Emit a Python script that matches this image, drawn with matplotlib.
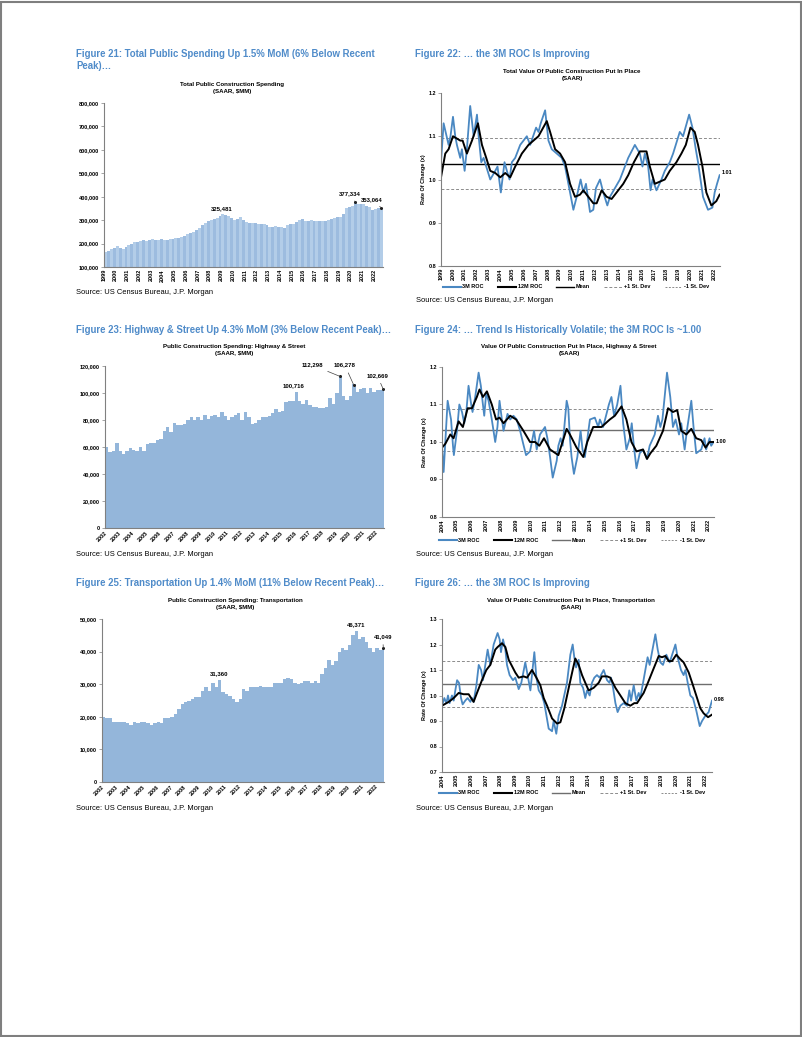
import matplotlib
matplotlib.use('Agg')
import matplotlib.pyplot as plt
from matplotlib import font_manager
from matplotlib.lines import Line2D
from matplotlib.patches import Rectangle
import numpy as np

W, H = 802, 1037
_names = {f.name for f in font_manager.fontManager.ttflist}
NARROW = 'Liberation Sans Narrow' if 'Liberation Sans Narrow' in _names else 'Liberation Sans'
plt.rcParams['font.family'] = ['Liberation Sans', 'DejaVu Sans']

# ---------------- DATA ----------------
FIG_TITLES = {
    21: "Figure 21: Total Public Spending Up 1.5% MoM (6% Below Recent\nPeak)…",
    22: "Figure 22: … the 3M ROC Is Improving",
    23: "Figure 23: Highway & Street Up 4.3% MoM (3% Below Recent Peak)…",
    24: "Figure 24: … Trend Is Historically Volatile; the 3M ROC Is ~1.00",
    25: "Figure 25: Transportation Up 1.4% MoM (11% Below Recent Peak)…",
    26: "Figure 26: … the 3M ROC Is Improving",
}
CHART_TITLES = {
    21: "Total Public Construction Spending\n(SAAR, $MM)",
    22: "Total Value Of Public Construction Put In Place\n(SAAR)",
    23: "Public Construction Spending: Highway & Street\n(SAAR, $MM)",
    24: "Value Of Public Construction Put In Place, Highway & Street\n(SAAR)",
    25: "Public Construction Spending: Transportation\n(SAAR, $MM)",
    26: "Value Of Public Construction Put In Place, Transportation\n(SAAR)",
}
SOURCE = "Source: US Census Bureau, J.P. Morgan"
LEGEND_LABELS = ["3M ROC", "12M ROC", "Mean", "+1 St. Dev", "-1 St. Dev"]
Y_LABEL = "Rate Of Change (x)"

# quarterly values, $000 MM
TOTAL_START = 1999.0
TOTAL_K = [165, 170, 175, 180, 188, 182, 178, 185, 192, 200, 205, 205,
           212, 215, 213, 215, 218, 216, 215, 218, 215, 217, 220, 220,
           222, 224, 228, 232, 240, 244, 250, 258, 265, 278, 288, 295,
           300, 305, 310, 318, 325, 322, 318, 310, 300, 305, 312, 300,
           290, 288, 287, 286, 285, 284, 283, 278, 272, 272, 273, 272,
           272, 268, 280, 282, 285, 290, 300, 305, 296, 298, 300, 298,
           297, 297, 298, 298, 300, 304, 308, 312, 315, 325, 350, 355,
           360, 377.3, 370, 368, 370, 360, 355, 345, 348, 350, 353.1]
TOTAL_YEARS = list(range(1999, 2023))

HWY_START = 2002.0
HWY_K = [60, 56, 57, 63, 57, 55, 57, 59, 58, 57, 60, 57,
         62, 63, 63, 65, 66, 72, 75, 71, 78, 76, 76, 77,
         80, 82, 80, 82, 80, 84, 81, 83, 84, 82, 86, 83,
         80, 82, 84, 85, 80, 86, 82, 77, 78, 80, 82, 82,
         83, 85, 88, 86, 87, 93, 94, 94, 100.7, 94, 92, 95,
         91, 90, 90, 89, 89, 90, 96, 92, 100, 112.3, 98, 95,
         98, 106.3, 101, 103, 104, 100, 104, 101, 102, 102, 102.7]
HWY_YEARS = list(range(2002, 2023))

TRN_START = 2002.0
TRN_K = [20, 19.5, 19.5, 18.5, 18.5, 18.5, 18.5, 18, 17.5, 18.5, 18, 18.5,
         18.5, 18, 17.5, 18, 18.5, 18, 19.5, 19.5, 20, 21, 22.5, 24,
         24.5, 25, 25.5, 26, 26, 28, 29, 28, 30.5, 29, 31.4, 27.5,
         27, 26.5, 25.5, 24.5, 25.5, 28.5, 28, 29, 29, 29, 29.5, 29,
         29, 29, 30.5, 30.5, 30.5, 31.5, 32, 31.5, 30.5, 30, 30.5, 31,
         31, 30.5, 31, 30.5, 33, 35, 37.5, 36, 37, 40, 41, 40.5,
         42, 45, 46.4, 44, 44.5, 43, 41, 40, 41, 40.5, 41.05]
TRN_YEARS = list(range(2002, 2023))

# (date, value) pairs for rate-of-change series
TOT_3M = [(1999.00, 1.04), (1999.22, 1.13), (1999.64, 1.08), (1999.80, 1.10), (2000.01, 1.145),
          (2000.20, 1.10), (2000.34, 1.08), (2000.62, 1.05), (2000.76, 1.07), (2000.99, 1.02),
          (2001.18, 1.07), (2001.46, 1.17), (2001.75, 1.10), (2002.03, 1.15), (2002.17, 1.10),
          (2002.39, 1.04), (2002.59, 1.05), (2002.81, 1.03), (2003.15, 1.00), (2003.57, 1.02),
          (2003.76, 1.03), (2004.04, 0.97), (2004.35, 1.04), (2004.55, 1.02), (2004.77, 1.00),
          (2004.97, 1.04), (2005.25, 1.05), (2005.67, 1.08), (2006.23, 1.10), (2006.51, 1.08),
          (2007.01, 1.12), (2007.21, 1.11), (2007.40, 1.13), (2007.77, 1.16), (2008.05, 1.09),
          (2008.33, 1.07), (2008.75, 1.06), (2009.17, 1.05), (2009.45, 1.03), (2009.87, 0.97),
          (2010.15, 0.93), (2010.43, 0.96), (2010.76, 1.00), (2010.99, 0.97), (2011.21, 0.99),
          (2011.55, 0.925), (2011.83, 0.93), (2012.05, 0.98), (2012.39, 1.00), (2012.67, 0.97),
          (2013.01, 0.94), (2013.23, 0.96), (2013.65, 0.98), (2014.07, 1.00), (2014.35, 1.02),
          (2014.77, 1.05), (2015.33, 1.08), (2015.75, 1.06), (2015.97, 1.03), (2016.17, 1.06),
          (2016.45, 1.03), (2016.65, 0.975), (2016.82, 1.00), (2017.15, 0.975), (2017.57, 1.00),
          (2017.85, 1.02), (2018.27, 1.04), (2018.55, 1.06), (2019.11, 1.11), (2019.39, 1.10),
          (2019.90, 1.15), (2020.18, 1.12), (2020.46, 1.07), (2020.65, 1.04), (2021.07, 0.96),
          (2021.49, 0.93), (2021.86, 0.935), (2022.05, 0.97), (2022.25, 0.99), (2022.47, 1.01)]
TOT_12M = [(1999.00, 1.005), (1999.36, 1.06), (1999.64, 1.07), (2000.01, 1.10), (2000.62, 1.09),
           (2000.82, 1.09), (2001.18, 1.06), (2001.61, 1.09), (2002.11, 1.13), (2002.45, 1.08),
           (2002.81, 1.05), (2003.15, 1.02), (2003.57, 1.015), (2003.99, 1.005), (2004.41, 1.015),
           (2004.83, 1.005), (2005.25, 1.03), (2005.81, 1.06), (2006.37, 1.08), (2006.79, 1.09),
           (2007.21, 1.10), (2007.91, 1.135), (2008.19, 1.11), (2008.61, 1.07), (2009.03, 1.06),
           (2009.45, 1.04), (2009.87, 0.99), (2010.29, 0.96), (2010.71, 0.965), (2010.99, 0.975),
           (2011.41, 0.96), (2011.83, 0.945), (2012.11, 0.945), (2012.53, 0.975), (2012.95, 0.96),
           (2013.37, 0.955), (2013.79, 0.97), (2014.35, 0.99), (2014.77, 1.01), (2015.25, 1.04),
           (2015.75, 1.065), (2016.31, 1.065), (2016.59, 1.03), (2017.01, 0.99), (2017.43, 0.995),
           (2017.85, 1.00), (2018.27, 1.02), (2018.83, 1.04), (2019.25, 1.06), (2019.62, 1.08),
           (2020.01, 1.12), (2020.37, 1.11), (2020.65, 1.08), (2021.02, 1.03), (2021.35, 0.97),
           (2021.77, 0.94), (2022.19, 0.95), (2022.47, 0.965)]
TOT_STATS = (1.035, 1.095, 0.977)   # mean, +1 sd, -1 sd
TOT_END = "1.01"

HWY_3M = [(2004.00, 0.99), (2004.11, 0.92), (2004.38, 1.11), (2004.61, 1.06), (2004.74, 0.99),
          (2004.80, 0.965), (2005.01, 1.03), (2005.17, 1.10), (2005.35, 1.08), (2005.50, 1.05),
          (2005.64, 1.08), (2005.79, 1.15), (2005.97, 1.10), (2006.06, 1.08), (2006.24, 1.12),
          (2006.47, 1.185), (2006.62, 1.15), (2006.76, 1.10), (2006.85, 1.07), (2006.98, 1.13),
          (2007.14, 1.11), (2007.36, 1.06), (2007.59, 1.00), (2007.74, 1.04), (2007.88, 1.11),
          (2008.04, 1.06), (2008.15, 1.03), (2008.42, 1.075), (2008.60, 1.06), (2008.82, 1.07),
          (2009.04, 1.06), (2009.27, 1.03), (2009.45, 1.00), (2009.67, 0.965), (2009.94, 0.975),
          (2010.21, 1.03), (2010.39, 0.98), (2010.61, 1.02), (2010.95, 1.04), (2011.11, 1.01),
          (2011.29, 0.96), (2011.47, 0.905), (2011.74, 0.95), (2011.85, 0.99), (2012.00, 1.01),
          (2012.14, 0.99), (2012.41, 1.11), (2012.52, 1.09), (2012.63, 1.01), (2012.74, 0.96),
          (2012.90, 0.915), (2013.13, 0.96), (2013.26, 1.00), (2013.35, 1.03), (2013.48, 0.98),
          (2013.64, 0.96), (2013.98, 1.06), (2014.31, 1.065), (2014.54, 1.04), (2014.65, 1.06),
          (2014.87, 1.04), (2015.26, 1.10), (2015.43, 1.12), (2015.61, 1.07), (2015.82, 1.10),
          (2016.04, 1.15), (2016.22, 1.05), (2016.44, 0.98), (2016.67, 1.01), (2016.80, 1.05),
          (2016.94, 0.99), (2017.12, 0.93), (2017.34, 0.97), (2017.56, 0.98), (2017.83, 0.955),
          (2018.01, 0.99), (2018.35, 1.02), (2018.57, 1.07), (2018.73, 1.04), (2018.87, 1.06),
          (2019.18, 1.185), (2019.40, 1.12), (2019.58, 1.04), (2019.76, 1.06), (2019.99, 1.02),
          (2020.14, 1.05), (2020.37, 0.98), (2020.52, 1.03), (2020.82, 1.11), (2020.97, 1.04),
          (2021.15, 0.97), (2021.49, 0.98), (2021.71, 1.01), (2021.82, 0.98), (2022.05, 1.01),
          (2022.16, 0.99), (2022.32, 1.00)]
HWY_12M = [(2004.00, 0.985), (2004.22, 0.995), (2004.56, 1.02), (2004.78, 1.01), (2005.12, 1.055),
           (2005.41, 1.04), (2005.73, 1.09), (2006.02, 1.09), (2006.35, 1.12), (2006.53, 1.14),
           (2006.76, 1.12), (2007.03, 1.135), (2007.36, 1.10), (2007.65, 1.06), (2007.88, 1.065),
           (2008.15, 1.05), (2008.60, 1.07), (2009.00, 1.06), (2009.49, 1.03), (2009.94, 1.00),
           (2010.28, 1.00), (2010.57, 0.99), (2010.88, 1.01), (2011.29, 0.98), (2011.85, 0.965),
           (2012.41, 1.035), (2012.63, 1.02), (2013.08, 0.985), (2013.53, 0.96), (2013.80, 1.00),
           (2014.20, 1.04), (2014.76, 1.04), (2015.32, 1.06), (2015.66, 1.07), (2016.11, 1.095),
           (2016.44, 1.06), (2016.78, 1.00), (2017.12, 0.975), (2017.56, 0.98), (2017.83, 0.955),
           (2018.06, 0.97), (2018.46, 0.99), (2018.91, 1.03), (2019.25, 1.09), (2019.58, 1.08),
           (2019.87, 1.085), (2020.14, 1.03), (2020.48, 1.02), (2020.82, 1.035), (2021.15, 1.01),
           (2021.49, 1.005), (2021.78, 0.985), (2022.05, 1.00), (2022.32, 1.00)]
HWY_STATS = (1.033, 1.088, 0.975)
HWY_END = "1.00"

TRN_3M = [(2004.00, 0.96), (2004.16, 0.99), (2004.30, 0.97), (2004.41, 1.00), (2004.52, 0.97),
          (2004.68, 1.00), (2004.80, 0.98), (2004.91, 1.02), (2005.03, 1.06), (2005.16, 1.05),
          (2005.30, 0.99), (2005.41, 0.965), (2005.59, 0.98), (2005.75, 0.99), (2005.94, 0.975),
          (2006.05, 0.99), (2006.16, 0.975), (2006.35, 1.04), (2006.51, 1.12), (2006.67, 1.10),
          (2006.80, 1.06), (2006.96, 1.12), (2007.12, 1.18), (2007.30, 1.12), (2007.53, 1.20),
          (2007.80, 1.245), (2007.94, 1.22), (2008.03, 1.17), (2008.17, 1.22), (2008.33, 1.18),
          (2008.44, 1.12), (2008.62, 1.08), (2008.85, 1.06), (2009.01, 1.07), (2009.24, 1.025),
          (2009.42, 1.05), (2009.69, 1.13), (2009.85, 1.08), (2010.04, 1.02), (2010.31, 1.17),
          (2010.45, 1.07), (2010.61, 1.02), (2010.83, 1.00), (2010.99, 0.97), (2011.29, 0.87),
          (2011.52, 0.86), (2011.63, 0.90), (2011.81, 0.85), (2011.97, 0.92), (2012.20, 0.96),
          (2012.54, 1.05), (2012.77, 1.16), (2012.93, 1.20), (2013.04, 1.15), (2013.16, 1.11),
          (2013.34, 1.14), (2013.45, 1.05), (2013.64, 1.03), (2013.79, 0.99), (2013.91, 1.02),
          (2014.09, 1.00), (2014.25, 1.05), (2014.41, 1.07), (2014.59, 1.08), (2014.77, 1.07),
          (2015.05, 1.10), (2015.28, 1.06), (2015.44, 1.05), (2015.55, 1.07), (2015.69, 1.03),
          (2015.85, 0.97), (2016.00, 0.935), (2016.19, 0.96), (2016.41, 0.97), (2016.64, 0.96),
          (2016.80, 1.02), (2016.92, 0.98), (2017.10, 1.04), (2017.28, 0.98), (2017.44, 1.01),
          (2017.55, 0.99), (2017.74, 1.05), (2018.05, 1.15), (2018.19, 1.12), (2018.58, 1.24),
          (2018.74, 1.18), (2018.92, 1.13), (2019.10, 1.12), (2019.33, 1.16), (2019.56, 1.13),
          (2019.95, 1.20), (2020.10, 1.15), (2020.33, 1.10), (2020.51, 1.08), (2020.63, 1.10),
          (2020.79, 1.05), (2020.97, 1.00), (2021.15, 0.99), (2021.38, 0.94), (2021.61, 0.88),
          (2021.77, 0.90), (2021.99, 0.92), (2022.22, 0.935), (2022.45, 0.98)]
TRN_12M = [(2004.00, 0.96), (2004.46, 0.975), (2004.80, 0.99), (2005.14, 1.01), (2005.48, 1.005),
           (2005.82, 1.005), (2006.16, 0.975), (2006.39, 1.01), (2006.73, 1.06), (2007.03, 1.10),
           (2007.30, 1.12), (2007.64, 1.18), (2007.80, 1.19), (2008.10, 1.205), (2008.33, 1.19),
           (2008.56, 1.14), (2009.01, 1.09), (2009.24, 1.07), (2009.58, 1.075), (2009.81, 1.07),
           (2010.15, 1.10), (2010.45, 1.07), (2010.72, 1.04), (2010.95, 0.99), (2011.18, 0.96),
           (2011.52, 0.91), (2011.86, 0.89), (2012.09, 0.895), (2012.36, 0.95), (2012.66, 1.03),
           (2012.93, 1.10), (2013.11, 1.145), (2013.34, 1.12), (2013.57, 1.08), (2013.79, 1.05),
           (2014.02, 1.02), (2014.36, 1.03), (2014.71, 1.05), (2014.93, 1.075), (2015.28, 1.075),
           (2015.50, 1.07), (2015.85, 1.03), (2016.19, 1.00), (2016.53, 0.97), (2016.87, 0.96),
           (2017.14, 0.97), (2017.33, 0.97), (2017.55, 0.99), (2017.78, 1.01), (2018.07, 1.05),
           (2018.42, 1.10), (2018.81, 1.155), (2019.03, 1.15), (2019.26, 1.155), (2019.49, 1.135),
           (2019.72, 1.135), (2020.01, 1.16), (2020.24, 1.145), (2020.51, 1.13), (2020.86, 1.09),
           (2021.15, 1.04), (2021.43, 0.99), (2021.65, 0.95), (2021.88, 0.93), (2022.18, 0.915),
           (2022.45, 0.925)]
TRN_STATS = (1.045, 1.135, 0.955)
TRN_END = "0.98"
ROC_YEARS_TOT = list(range(1999, 2023))
ROC_YEARS_SUB = list(range(2004, 2023))

# ---------------- STYLE ----------------
TITLE_BLUE = '#4f8bc9'
LINE_BLUE = '#4a88c2'
BAR_LIGHT = '#b3cde8'
BAR_DARK = '#9dbcdf'
BAR_SOLID = '#94b6da'
SPINE = '#808080'
TICK_FS = 4.0
CT_FS = 4.4

fig = plt.figure(figsize=(W / 100, H / 100), dpi=100)
fig.patch.set_facecolor('white')


def px_axes(l, t, r, b):
    return fig.add_axes([l / W, 1 - b / H, (r - l) / W, (b - t) / H])


def ftext(x, y, s, **kw):
    kw.setdefault('va', 'center')
    return fig.text(x / W, 1 - y / H, s, **kw)


def style_axes(ax):
    for s in ('top', 'right'):
        ax.spines[s].set_visible(False)
    for s in ('left', 'bottom'):
        ax.spines[s].set_color(SPINE)
        ax.spines[s].set_linewidth(0.8)
    ax.tick_params(axis='both', length=2, width=0.5, color=SPINE, pad=1.5,
                   labelsize=TICK_FS)
    for lab in ax.get_xticklabels() + ax.get_yticklabels():
        lab.set_fontweight('bold')


def headers(num, fx, fy, cx, cy):
    ftext(fx, fy, FIG_TITLES[num], family=[NARROW, 'Liberation Sans', 'DejaVu Sans'],
          fontsize=7.8 if NARROW != 'Liberation Sans' else 6.95, fontweight='bold',
          color=TITLE_BLUE, ha='left', va='top', linespacing=1.25)
    ftext(cx, cy, CHART_TITLES[num], fontsize=CT_FS, fontweight='bold', ha='center',
          va='top', linespacing=1.55)


def bar_chart(ax, start, vals_k, years, ylim, ystep, colors, rot, xmax):
    x = start + 0.25 * np.arange(len(vals_k))
    v = np.array(vals_k) * 1000.0
    ax.bar(x, v - ylim[0], bottom=ylim[0], width=0.25, align='edge',
           color=colors, linewidth=0)
    ax.set_xlim(start, xmax)
    ax.set_ylim(*ylim)
    yt = np.arange(ylim[0], ylim[1] + 1, ystep)
    ax.set_yticks(yt)
    ax.set_yticklabels([f'{t:,.0f}' for t in yt])
    ax.set_xticks(years)
    if rot == 90:
        ax.set_xticklabels([str(y) for y in years], rotation=90, va='top', ha='center')
    else:
        ax.set_xticklabels([str(y) for y in years], rotation=45, ha='right',
                           rotation_mode='anchor')
    style_axes(ax)
    ax.tick_params(axis='x', length=0)


def annot(ax, text, xy_text, xy_point=None):
    kw = dict(fontsize=TICK_FS + 0.3, fontweight='bold', ha='center', va='center')
    if xy_point is None:
        ax.text(xy_text[0], xy_text[1], text, **kw)
    else:
        ax.annotate(text, xy=xy_point, xytext=xy_text,
                    arrowprops=dict(arrowstyle='-', color='#404040', lw=0.5,
                                    shrinkA=2, shrinkB=0), **kw)
        ax.plot([xy_point[0]], [xy_point[1]], marker='o', ms=1.2, color='#202020')


def roc_chart(ax, s3, s12, stats, years, xlim, ylim, ystep, mean_color, end_label,
              end_offset, legend_xy):
    mean, up, dn = stats
    ax.axhline(up, color='#8c8c8c', lw=0.7, ls=(0, (3, 2)))
    ax.axhline(dn, color='#8c8c8c', lw=0.7, ls=(0, (3, 2)))
    ax.axhline(mean, color=mean_color, lw=1.0)
    x3, y3 = zip(*s3)
    x12, y12 = zip(*s12)
    ax.plot(x3, y3, color=LINE_BLUE, lw=1.3, solid_joinstyle='round')
    ax.plot(x12, y12, color='black', lw=1.4, solid_joinstyle='round')
    ax.set_xlim(*xlim)
    ax.set_ylim(*ylim)
    yt = np.arange(ylim[0], ylim[1] + 1e-9, ystep)
    ax.set_yticks(yt)
    ax.set_yticklabels([f'{t:.1f}' for t in yt])
    ax.set_xticks(years)
    ax.set_xticklabels([str(y) for y in years], rotation=90, va='top', ha='center')
    style_axes(ax)
    ax.tick_params(axis='x', length=0)
    ax.set_ylabel(Y_LABEL, fontsize=TICK_FS, fontweight='bold', labelpad=2)
    ax.text(x3[-1] + 0.15, y3[-1] + end_offset, end_label, fontsize=TICK_FS,
            fontweight='bold', ha='left', va='center', clip_on=False)
    handles = [Line2D([], [], color=LINE_BLUE, lw=1.5),
               Line2D([], [], color='black', lw=1.5),
               Line2D([], [], color=mean_color, lw=1.0),
               Line2D([], [], color='#8c8c8c', lw=0.7, ls=(0, (3, 2))),
               Line2D([], [], color='#8c8c8c', lw=0.7, ls=(0, (2, 1.5)))]
    leg = ax.legend(handles, LEGEND_LABELS, ncol=5, loc='center',
                    bbox_to_anchor=(legend_xy[0] / W, 1 - legend_xy[1] / H),
                    bbox_transform=fig.transFigure, frameon=False,
                    prop={'size': TICK_FS, 'weight': 'bold'}, handlelength=3.2,
                    handletextpad=0.3, columnspacing=2.6, borderpad=0)
    return leg


# ---------------- FIGURE 21 ----------------
headers(21, 76, 49, 232, 82)
ax21 = px_axes(104, 103, 383, 267)
cols21 = [BAR_DARK if i % 2 else BAR_LIGHT for i in range(len(TOTAL_K))]
bar_chart(ax21, TOTAL_START, TOTAL_K, TOTAL_YEARS, (100000, 800000), 100000,
          cols21, 90, 2022.75)
annot(ax21, "325,481", (2009.0, 350000))
annot(ax21, "377,334", (2019.9, 414000), (2020.4, 377334))
annot(ax21, "353,064", (2021.75, 389000), (2022.6, 353064))
ftext(76, 293, SOURCE, fontsize=5.4, ha='left')

# ---------------- FIGURE 22 ----------------
headers(22, 415, 49, 572, 69)
ax22 = px_axes(441, 93, 720, 266)
roc_chart(ax22, TOT_3M, TOT_12M, TOT_STATS, ROC_YEARS_TOT, (1999, 2022.5),
          (0.8, 1.2), 0.1, 'black', TOT_END, 0.006, (576, 287))
ftext(416, 301, SOURCE, fontsize=5.4, ha='left')

# ---------------- FIGURE 23 ----------------
headers(23, 76, 325, 234, 344)
ax23 = px_axes(105, 366, 384, 528)
bar_chart(ax23, HWY_START, HWY_K, HWY_YEARS, (0, 120000), 20000,
          BAR_SOLID, 45, 2022.6)
annot(ax23, "100,716", (2015.95, 105400))
annot(ax23, "112,298", (2017.3, 120700), (2019.35, 112298))
annot(ax23, "106,278", (2019.7, 120700), (2020.35, 106278))
annot(ax23, "102,669", (2022.1, 113000), (2022.55, 102669))
ftext(76, 555, SOURCE, fontsize=5.4, ha='left')

# ---------------- FIGURE 24 ----------------
headers(24, 415, 325, 569, 344)
ax24 = px_axes(442, 367, 714, 517)
roc_chart(ax24, HWY_3M, HWY_12M, HWY_STATS, ROC_YEARS_SUB, (2004, 2022.35),
          (0.8, 1.2), 0.1, '#6e6e6e', HWY_END, 0.0, (572, 540))
ftext(416, 555, SOURCE, fontsize=5.4, ha='left')

# ---------------- FIGURE 25 ----------------
headers(25, 76, 578, 235, 598)
ax25 = px_axes(102, 619, 384, 782)
bar_chart(ax25, TRN_START, TRN_K, TRN_YEARS, (0, 50000), 10000,
          BAR_SOLID, 45, 2022.65)
annot(ax25, "31,360", (2010.6, 33100))
annot(ax25, "46,371", (2020.6, 48200))
annot(ax25, "41,049", (2022.55, 44600), (2022.6, 41049))
ftext(76, 808, SOURCE, fontsize=5.4, ha='left')

# ---------------- FIGURE 26 ----------------
headers(26, 415, 578, 571, 598)
ax26 = px_axes(442, 619, 712, 772)
roc_chart(ax26, TRN_3M, TRN_12M, TRN_STATS, ROC_YEARS_SUB, (2004, 2022.45),
          (0.7, 1.3), 0.1, '#6e6e6e', TRN_END, 0.004, (572, 793))
ftext(416, 808, SOURCE, fontsize=5.4, ha='left')

# page border
fig.add_artist(Rectangle((0.5 / W, 1.5 / H), (W - 1.5) / W, (H - 3) / H,
                         transform=fig.transFigure, fill=False,
                         edgecolor='#7f7f7f', lw=1.5))

fig.savefig('out.png', dpi=100, facecolor='white')
